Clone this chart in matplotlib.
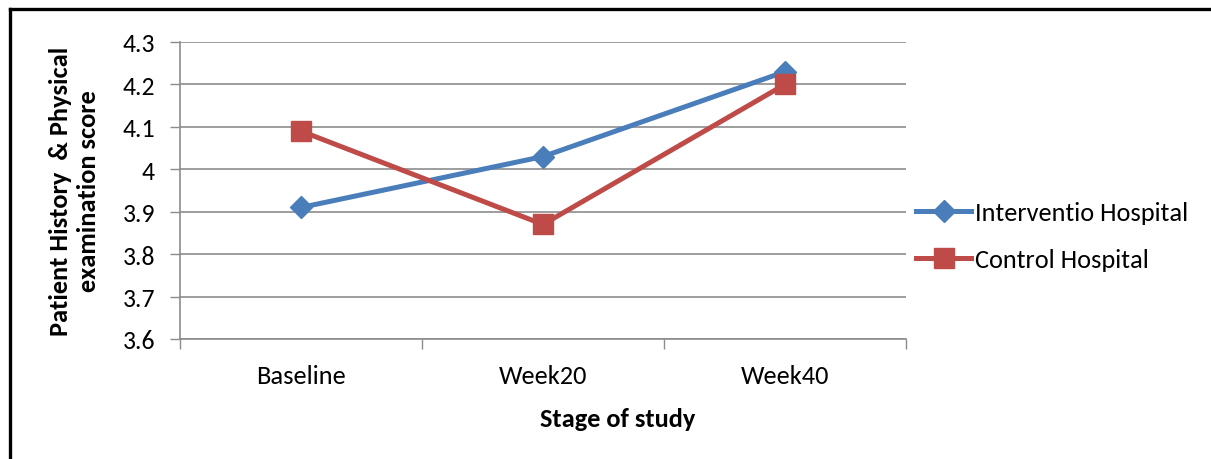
import matplotlib
matplotlib.use("Agg")
import matplotlib.pyplot as plt
from matplotlib.lines import Line2D
from matplotlib.ticker import FixedLocator, FuncFormatter

plt.rcParams['font.family'] = ['Carlito', 'Lato', 'DejaVu Sans']

stages = ["Baseline", "Week20", "Week40"]
intervention = [3.91, 4.03, 4.23]
control = [4.09, 3.87, 4.20]
y_ticks = [3.6, 3.7, 3.8, 3.9, 4.0, 4.1, 4.2, 4.3]

blue = "#4A7EBB"
red = "#BE4B48"
grey = "#8C8C8C"

W, H = 1211, 460
fig = plt.figure(figsize=(W / 100, H / 100), dpi=100)
ax = fig.add_axes([180 / W, 1 - 340 / H, 726 / W, 297 / H])

x = list(range(len(stages)))
ax.plot(x, intervention, color=blue, lw=3.6, marker="D", ms=11,
        mec=blue, mfc=blue, label="Interventio Hospital", zorder=3)
ax.plot(x, control, color=red, lw=3.6, marker="s", ms=14,
        mec=red, mfc=red, label="Control Hospital", zorder=3)

ax.set_xlim(-0.5, len(stages) - 0.5)
ax.set_ylim(3.6, 4.3)

# category boundaries carry tick marks, labels sit in the middle
ax.xaxis.set_major_locator(FixedLocator([i - 0.5 for i in range(len(stages) + 1)]))
ax.xaxis.set_major_formatter(FuncFormatter(lambda v, p: ""))
ax.xaxis.set_minor_locator(FixedLocator(x))
ax.set_xticklabels(stages, minor=True)
ax.tick_params(axis="x", which="major", length=7, width=1, color=grey, direction="out")
ax.tick_params(axis="x", which="minor", length=0, pad=18, labelsize=19)

ax.set_yticks(y_ticks)
ax.yaxis.set_major_formatter(FuncFormatter(lambda v, p: f"{v:g}"))
ax.tick_params(axis="y", length=7, width=1, color=grey, direction="out", pad=11, labelsize=18.5)

ax.grid(axis="y", color=grey, lw=1.2)
ax.set_axisbelow(True)
for side in ("top", "right"):
    ax.spines[side].set_visible(False)
for side in ("left", "bottom"):
    ax.spines[side].set_color(grey)
    ax.spines[side].set_linewidth(1.2)

ax.set_xlabel("Stage of study", fontsize=19, fontweight="bold")
ax.xaxis.set_label_coords((618 - 180) / 726, -(408 - 340) / 297)
ax.set_ylabel("Patient History  & Physical\nexamination score", fontsize=19,
              fontweight="bold", linespacing=1.25)
ax.yaxis.set_label_coords(-(180 - 100) / 726, 0.5)

fig.legend(loc="center left", bbox_to_anchor=(916 / W, 1 - 237 / H),
           frameon=False, fontsize=19, handlelength=2.1, handletextpad=0.15,
           labelspacing=0.92, borderaxespad=0, borderpad=0)

# outer frame (top and left edges)
fig.add_artist(Line2D([9.5 / W, 1.0], [1 - 9.5 / H] * 2, color="black", lw=2.4,
                      transform=fig.transFigure))
fig.add_artist(Line2D([9.5 / W] * 2, [0, 1 - 9.5 / H], color="black", lw=2.4,
                      transform=fig.transFigure))

fig.savefig("out.png", dpi=100)
